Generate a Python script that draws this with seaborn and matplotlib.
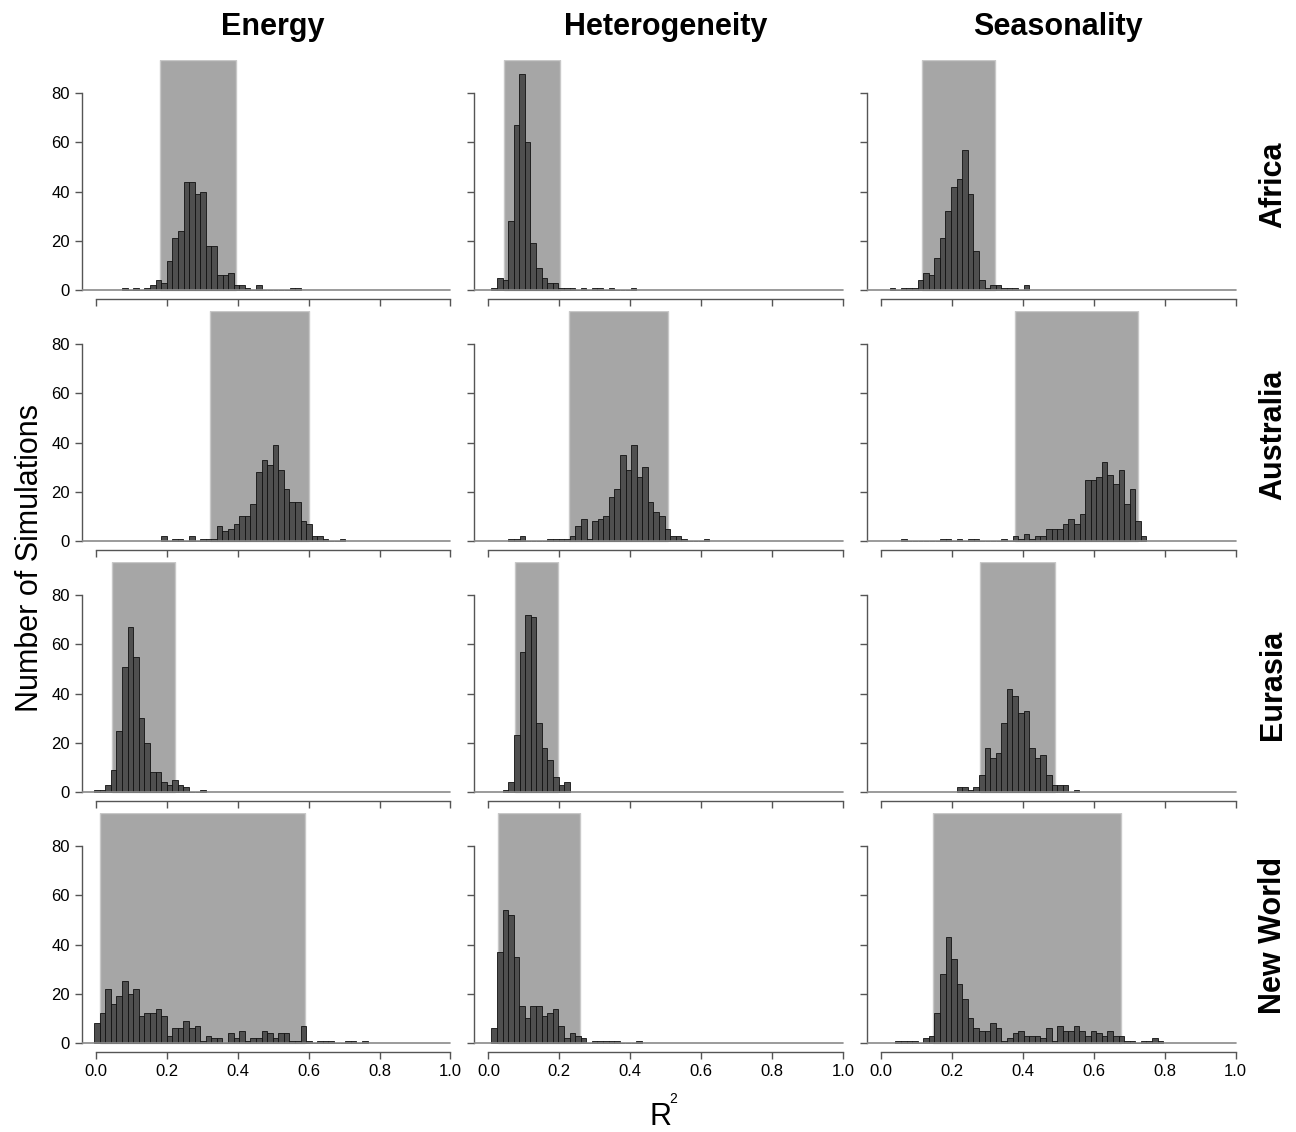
import numpy as np
import pandas as pd
import matplotlib
matplotlib.use("Agg")
import matplotlib.pyplot as plt
import seaborn as sns

# histogram bins (R^2), one fixed width, first left edge per panel
BIN_W = 0.01573

regions = ["Africa", "Australia", "Eurasia", "New World"]
predictors = ["Energy", "Heterogeneity", "Seasonality"]

# counts per bin
africa_energy = [1, 0, 1, 0, 1, 2, 4, 3, 12, 21, 24, 44, 44, 39, 40, 18, 18, 6, 6, 7, 2, 2, 1, 0, 2,
                 0, 0, 0, 0, 0, 1, 1]
africa_het = [1, 5, 4, 28, 67, 88, 60, 19, 9, 5, 3, 3, 1, 1, 1, 0, 1, 0, 1, 1, 0, 1, 0, 0, 0, 1]
africa_seas = [1, 0, 1, 1, 1, 4, 7, 6, 13, 21, 32, 42, 45, 57, 39, 16, 4, 1, 2, 2, 1, 1, 1, 0, 2]

australia_energy = [2, 0, 1, 1, 0, 2, 0, 1, 1, 1, 6, 4, 5, 7, 10, 10, 15, 28, 33, 31, 39, 29, 21, 16,
                    16, 8, 7, 2, 2, 1, 0, 0, 1]
australia_het = [1, 1, 2, 0, 0, 0, 0, 1, 1, 1, 1, 2, 6, 9, 1, 8, 9, 10, 18, 21, 35, 29, 39, 26, 30,
                 16, 12, 10, 5, 2, 2, 1, 0, 0, 0, 1]
australia_seas = [1, 0, 0, 0, 0, 0, 0, 1, 1, 0, 1, 0, 1, 1, 0, 0, 0, 0, 1, 0, 2, 1, 3, 1, 2, 2, 5,
                  5, 5, 7, 9, 7, 11, 25, 25, 26, 32, 27, 23, 29, 15, 21, 8, 2]

eurasia_energy = [1, 1, 3, 9, 25, 51, 67, 55, 30, 20, 8, 8, 4, 3, 5, 3, 2, 0, 0, 1]
eurasia_het = [1, 4, 23, 57, 72, 71, 28, 18, 13, 6, 3, 4]
eurasia_seas = [2, 2, 1, 2, 7, 18, 14, 16, 28, 42, 39, 32, 33, 18, 14, 15, 7, 3, 3, 3, 0, 1]

newworld_energy = [8, 12, 22, 16, 19, 25, 20, 22, 11, 12, 12, 14, 11, 3, 6, 6, 9, 6, 7, 1, 3, 2, 2,
                   0, 4, 2, 5, 1, 2, 2, 5, 4, 2, 4, 4, 1, 1, 7, 1, 0, 1, 1, 1, 0, 0, 1, 1, 0, 1]
newworld_het = [6, 37, 54, 52, 35, 15, 10, 15, 15, 11, 12, 14, 7, 2, 4, 3, 2, 0, 1, 1, 1, 1, 1, 0,
                0, 0, 1]
newworld_seas = [1, 1, 1, 1, 0, 2, 3, 12, 28, 43, 34, 24, 18, 10, 6, 5, 5, 8, 6, 1, 2, 4, 5, 3, 3,
                 3, 2, 6, 1, 7, 5, 5, 7, 5, 3, 5, 4, 3, 5, 3, 3, 1, 1, 0, 1, 1, 2, 1]

# left edge of the first bin (energy, heterogeneity, seasonality)
africa_start = [0.0742, 0.0085, 0.0244]
australia_start = [0.184, 0.0564, 0.0564]
eurasia_start = [-0.0047, 0.0405, 0.2133]
newworld_start = [-0.0047, 0.0085, 0.0404]

# shaded interval (lower, upper) per panel
africa_ci = [(0.182, 0.396), (0.045, 0.202), (0.1165, 0.321)]
australia_ci = [(0.322, 0.601), (0.227, 0.507), (0.379, 0.724)]
eurasia_ci = [(0.046, 0.2235), (0.0762, 0.1966), (0.278, 0.4897)]
newworld_ci = [(0.0122, 0.5887), (0.0263, 0.2587), (0.1466, 0.6758)]

counts = [[africa_energy, africa_het, africa_seas],
          [australia_energy, australia_het, australia_seas],
          [eurasia_energy, eurasia_het, eurasia_seas],
          [newworld_energy, newworld_het, newworld_seas]]
starts = [africa_start, australia_start, eurasia_start, newworld_start]
cis = [africa_ci, australia_ci, eurasia_ci, newworld_ci]

# long table of bins
rows = []
for i, reg in enumerate(regions):
    for j, pred in enumerate(predictors):
        for k, n in enumerate(counts[i][j]):
            rows.append((reg, pred, starts[i][j] + (k + 0.5) * BIN_W, n))
df = pd.DataFrame(rows, columns=["region", "predictor", "r2", "n"])

sns.set_style("ticks")
plt.rcParams["font.family"] = ["Liberation Sans", "DejaVu Sans"]
plt.rcParams["text.color"] = "black"

AX_COL = "#555555"
fig, axes = plt.subplots(4, 3, figsize=(12.96, 11.32), dpi=100)
fig.subplots_adjust(left=0.063, right=0.9644, top=0.9472, bottom=0.0708,
                    wspace=0.025, hspace=0.0496)

for i, reg in enumerate(regions):
    for j, pred in enumerate(predictors):
        ax = axes[i, j]
        sub = df[(df.region == reg) & (df.predictor == pred)]
        edges = [starts[i][j] + BIN_W * k for k in range(len(sub) + 1)]
        lo, hi = cis[i][j]
        ax.axvspan(lo, hi, ymin=3.6 / 97.2, ymax=1, facecolor="#a6a6a6",
                   edgecolor="#c8c8c8", linewidth=1, zorder=0)
        sns.histplot(data=sub, x="r2", weights="n", bins=edges, ax=ax,
                     color="#4f4f4f", edgecolor="#111111", linewidth=0.6,
                     alpha=1, zorder=2)
        ax.axhline(0, xmin=0, xmax=1.04 / 1.08, color="#8a8a8a", linewidth=1.2, zorder=3)
        ax.set_xlim(-0.04, 1.04)
        ax.set_ylim(-3.6, 93.6)
        ax.set_xticks([0, 0.2, 0.4, 0.6, 0.8, 1.0])
        ax.set_yticks([0, 20, 40, 60, 80])
        ax.spines["top"].set_visible(False)
        ax.spines["right"].set_visible(False)
        ax.spines["left"].set_bounds(0, 80)
        ax.spines["bottom"].set_bounds(0, 1)
        for s in ("left", "bottom"):
            ax.spines[s].set_color(AX_COL)
            ax.spines[s].set_linewidth(1.0)
        ax.tick_params(axis="both", direction="out", length=5, width=1.0,
                       color=AX_COL, labelsize=12, labelcolor="black")
        ax.set_xlabel("")
        ax.set_ylabel("")
        if i < 3:
            ax.set_xticklabels([])
        else:
            ax.set_xticklabels(["0.0", "0.2", "0.4", "0.6", "0.8", "1.0"])
        if j > 0:
            ax.set_yticklabels([])
        if i == 0:
            ax.set_title(pred, fontsize=22, fontweight="bold", pad=18, color="black")

for i, reg in enumerate(regions):
    fig.text(1273 / 1296, 1 - (185 + 250 * i) / 1132, reg, rotation=90,
             ha="center", va="center", fontsize=22, fontweight="bold", color="black")

fig.text(30 / 1296, 1 - 558 / 1132, "Number of Simulations", rotation=90,
         ha="center", va="center", fontsize=22, color="black")
# R with a small raised 2, as in the original
fig.text(660 / 1296, 1 - 1117 / 1132, "R", ha="center", va="center",
         fontsize=22, color="black")
fig.text(673 / 1296, 1 - 1099 / 1132, "2", ha="center", va="center",
         fontsize=10, color="black")

fig.savefig("out.png", dpi=100)
